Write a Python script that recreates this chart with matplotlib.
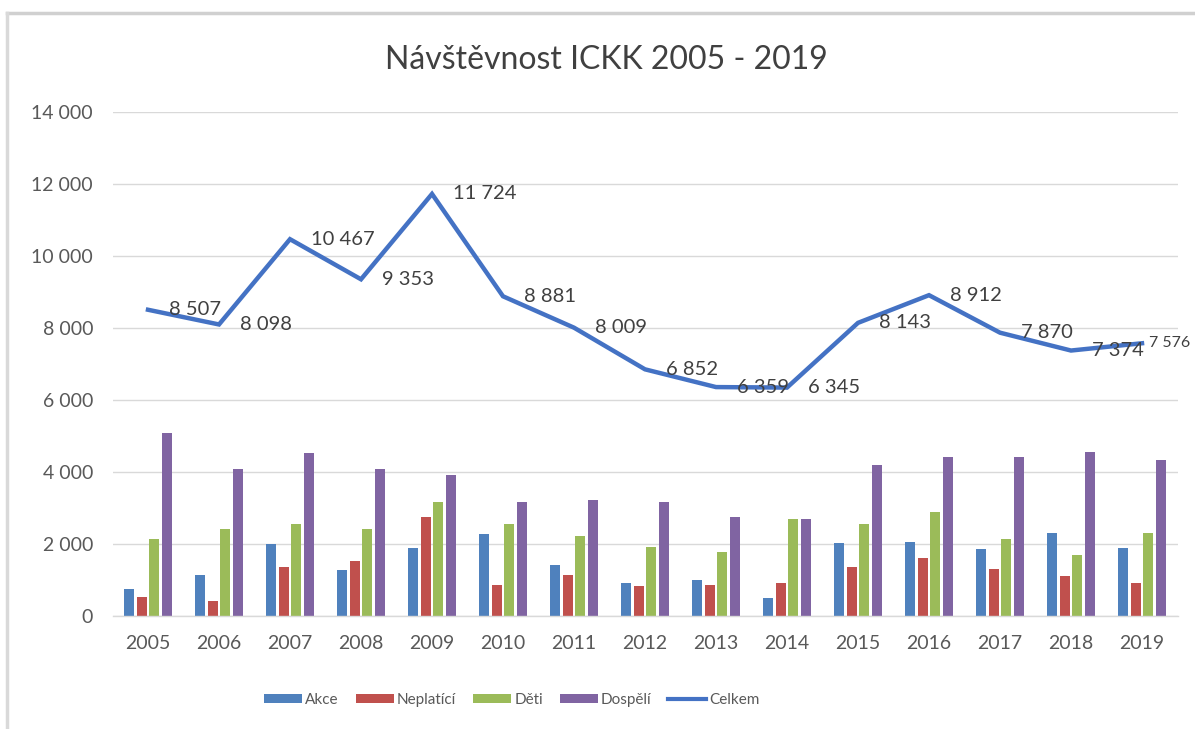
import matplotlib
matplotlib.use("Agg")
import matplotlib.pyplot as plt
import numpy as np
from matplotlib.lines import Line2D

years = ["2005", "2006", "2007", "2008", "2009", "2010", "2011", "2012",
         "2013", "2014", "2015", "2016", "2017", "2018", "2019"]
akce = [742, 1139, 1991, 1278, 1889, 2278, 1426, 926, 991, 491, 2019, 2065, 1852, 2315, 1889]
neplatici = [536, 425, 1361, 1528, 2741, 852, 1139, 824, 852, 926, 1352, 1602, 1315, 1102, 926]
deti = [2139, 2426, 2565, 2426, 3167, 2556, 2213, 1926, 1778, 2694, 2556, 2880, 2130, 1704, 2315]
dospeli = [5093, 4093, 4519, 4093, 3917, 3167, 3213, 3167, 2741, 2694, 4204, 4417, 4417, 4556, 4343]
celkem = [8507, 8098, 10467, 9353, 11724, 8881, 8009, 6852, 6359, 6345, 8143, 8912, 7870, 7374, 7576]
series_names = ["Akce", "Neplatící", "Děti", "Dospělí"]
line_name = "Celkem"
title = "Návštěvnost ICKK 2005 - 2019"

colors = ["#4F81BD", "#C0504D", "#9BBB59", "#8064A2"]
line_color = "#4472C4"

plt.rcParams['font.family'] = ['Lato', 'DejaVu Sans']

W, H = 1195, 729
fig = plt.figure(figsize=(W / 100, H / 100), dpi=100)
ax = fig.add_axes([112.5 / W, (H - 616) / H, (1177.5 - 112.5) / W, (616 - 112) / H])

x = np.arange(len(years))
bw = 0.14
pitch = 0.18
for i, (vals, name, c) in enumerate(zip([akce, neplatici, deti, dospeli], series_names, colors)):
    ax.bar(x + (i - 1.5) * pitch, vals, width=bw, color=c, label=name, zorder=2)

ax.plot(x, celkem, color=line_color, lw=3.2, zorder=3, solid_joinstyle='miter')

def fmt(v):
    return f"{v:,}".replace(",", " ")

n = len(celkem)
for k, (xi, v) in enumerate(zip(x, celkem)):
    last = k == n - 1
    ax.annotate(fmt(v), (xi, v), xytext=(5 if last else 15, 0), textcoords="offset points",
                ha="left", va="center", fontsize=11.5 if last else 14.5,
                color="#404040", zorder=4, annotation_clip=False)

ax.set_xlim(-0.5, len(years) - 0.5)
ax.set_ylim(0, 14000)
ax.set_yticks(np.arange(0, 14001, 2000))
ax.set_yticklabels([fmt(v) for v in range(0, 14001, 2000)])
ax.set_xticks(x)
ax.set_xticklabels(years)
ax.tick_params(axis='both', length=0, labelsize=14, labelcolor="#595959")
ax.tick_params(axis='y', pad=14)
ax.tick_params(axis='x', pad=14)
ax.grid(axis='y', color="#d9d9d9", lw=1.0, zorder=0)
ax.set_axisbelow(True)
for s in ["top", "right", "left"]:
    ax.spines[s].set_visible(False)
ax.spines["bottom"].set_color("#d9d9d9")
ax.spines["bottom"].set_linewidth(1.0)

fig.text(606 / W, 1 - 60 / H, title, ha="center", va="center", fontsize=23, color="#404040")

handles, labels = ax.get_legend_handles_labels()
handles.append(Line2D([0], [0], color=line_color, lw=3.0))
labels.append(line_name)
fig.legend(handles, labels, loc="center", bbox_to_anchor=(512 / W, 1 - 700 / H), ncol=5,
           frameon=False, fontsize=11, handlelength=2.5, handleheight=0.6,
           handletextpad=0.2, columnspacing=1.1, labelcolor="#595959")

# chart border
fig.add_artist(Line2D([7 / W, 1], [1 - 13 / H, 1 - 13 / H], transform=fig.transFigure, color="#d0d0d0", lw=2.5))
fig.add_artist(Line2D([7 / W, 7 / W], [0, 1 - 13 / H], transform=fig.transFigure, color="#d9d9d9", lw=2.5))

fig.savefig("out.png", dpi=100)
